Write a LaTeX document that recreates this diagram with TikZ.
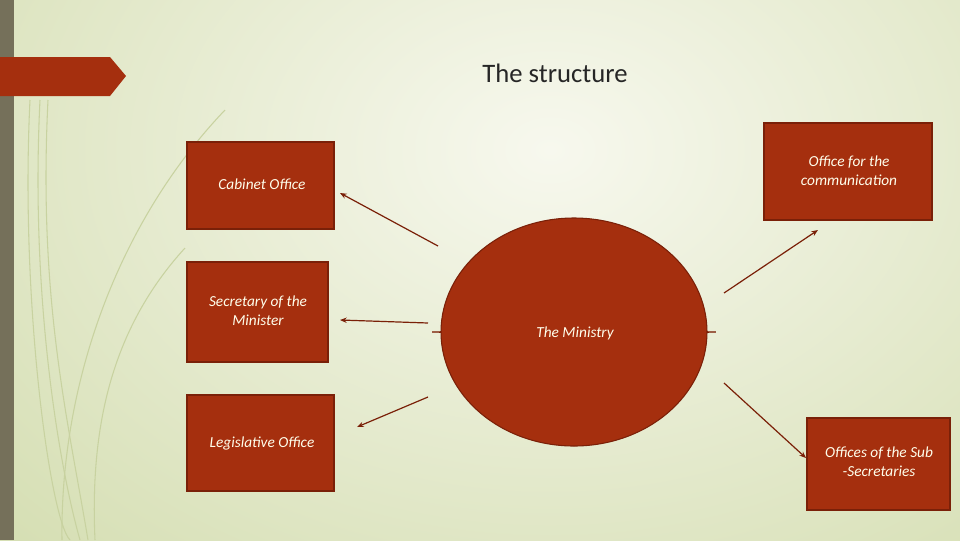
\documentclass[tikz,border=0pt]{standalone}
\usepackage{fontspec}
\setmainfont{Carlito}
\usetikzlibrary{shapes.geometric,arrows.meta}
\definecolor{bxred}{HTML}{A52F0E}
\definecolor{bxdark}{HTML}{7A2008}
\definecolor{strip}{HTML}{75705A}
\definecolor{bgout}{HTML}{D6DFB4}
\definecolor{bgin}{HTML}{F7F8EE}
\definecolor{deco}{HTML}{C8D2A0}
\begin{document}
\begin{tikzpicture}[x=0.75pt,y=-0.75pt,
  box/.style={draw=bxdark,line width=0.8pt,fill=bxred},
  lbl/.style={text=white!92!yellow,font=\itshape\fontsize{11.5}{14}\selectfont,align=center},
  conn/.style={draw=bxdark,line width=0.9pt,-{Stealth[length=5pt,width=4pt]}}]
\useasboundingbox (0,0) rectangle (960,540);
\fill[bgout] (0,0) rectangle (960,540);
\shade[inner color=bgin,outer color=bgout] (-200,-400) rectangle (1300,700);
\fill[strip] (0,0) rectangle (14,540);
\foreach \a/\b in {48/420, 40/470, 30/520}{
  \draw[deco,line width=0.8pt] (\a,100) .. controls (\a-10,300) and (\a+20,\b) .. (\a+40,540);}
\draw[deco,line width=0.8pt] (225,110) .. controls (120,220) and (60,380) .. (62,540);
\draw[deco,line width=0.8pt] (185,248) .. controls (110,330) and (90,430) .. (95,540);
\fill[bxred] (0,57) -- (110,57) -- (126,76) -- (110,96) -- (0,96) -- cycle;
\node[font=\fontsize{20}{24}\selectfont,text=black!85] (title) at (555,73) {The structure};
\draw[box] (187,142) rectangle (334,229);
\draw[box] (187,262) rectangle (328,362);
\draw[box] (187,395) rectangle (334,491);
\draw[box] (764,123) rectangle (932,220);
\draw[box] (807,418) rectangle (950,510);
\node[ellipse,box,minimum width=266\pgflinewidth,inner sep=0pt] (min) at (574,332) {};
\draw[box] (574,332) ellipse [x radius=133,y radius=114];
\node[lbl] (cab) at (262,184) {Cabinet Office};
\node[lbl] (sec) at (258,311) {Secretary of the\\Minister};
\node[lbl] (leg) at (262,443) {Legislative Office};
\node[lbl] (com) at (849,171) {Office for the\\communication};
\node[lbl] (sub) at (879,462) {Offices of the Sub\\-Secretaries};
\node[lbl] (mt) at (575,333) {The Ministry};
\coordinate (s1) at (438,246); \coordinate (e1) at (340,193);
\coordinate (s2) at (428,323); \coordinate (e2) at (340,320);
\coordinate (s3) at (428,397); \coordinate (e3) at (357,427);
\coordinate (s4) at (724,293); \coordinate (e4) at (818,230);
\coordinate (s5) at (724,383); \coordinate (e5) at (806,458);
\foreach \i in {1,...,5}{\draw[conn] (s\i) -- (e\i);}
\end{tikzpicture}
\end{document}
